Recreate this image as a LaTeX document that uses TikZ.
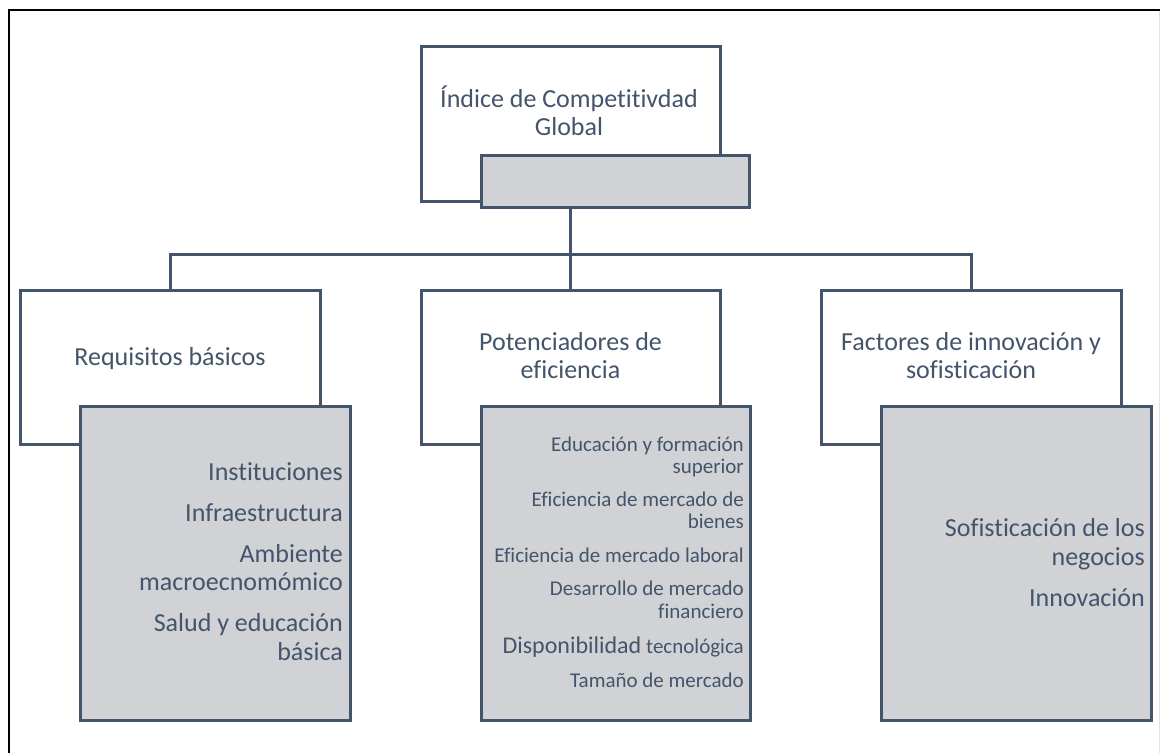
\documentclass[tikz,border=0pt]{standalone}
\usepackage{fontspec}
\setmainfont{Carlito}[Ligatures=NoCommon]
\definecolor{slate}{HTML}{44546A}
\definecolor{boxgrey}{HTML}{D0D2D6}
\definecolor{framegrey}{HTML}{E2E2E2}
\tikzset{
  wbox/.style={draw=slate, line width=3pt, fill=white, rectangle, inner sep=0pt, outer sep=0pt, anchor=north west},
  gbox/.style={draw=slate, line width=3pt, fill=boxgrey, rectangle, inner sep=0pt, outer sep=0pt, anchor=north west},
  conn/.style={draw=slate, line width=3pt},
  big/.style={text=slate, inner sep=0pt, font=\fontsize{26}{28}\selectfont},
  small/.style={text=slate, inner sep=0pt, font=\fontsize{21}{22}\selectfont},
}
\begin{document}
\begin{tikzpicture}[x=1pt,y=-1pt]
\useasboundingbox (0,0) rectangle (1160,753);
% frame
\draw[framegrey, line width=1pt] (1159,10) -- (1159,753);
\draw[black, line width=2.2pt] (9,753) -- (9,10) -- (1160,10);

% top
\node[wbox, minimum width=299pt, minimum height=155pt] (top) at (421,46) {};
\node[gbox, minimum width=268pt, minimum height=52pt] (topg) at (481,155) {};
\node[big, anchor=base] (tt1) at (569,107) {Índice de Competitivdad};
\node[big, anchor=base] (tt2) at (569,135) {Global};

% level boxes
\node[wbox, minimum width=300pt, minimum height=154pt] (b1) at (20,290) {};
\node[wbox, minimum width=299pt, minimum height=154pt] (b2) at (421,290) {};
\node[wbox, minimum width=300pt, minimum height=154pt] (b3) at (821,290) {};

% connectors
\draw[conn] (top.south |- topg.south) -- (b2.north);
\draw[conn] (b1.north) -- ++(0,-36) -| (b3.north);

\node[gbox, minimum width=270pt, minimum height=314pt] (g1) at (80,406) {};
\node[gbox, minimum width=269pt, minimum height=314pt] (g2) at (481,406) {};
\node[gbox, minimum width=270pt, minimum height=314pt] (g3) at (881,406) {};

% white box labels
\node[big, anchor=base] (l1) at (170,365) {Requisitos básicos};
\node[big, anchor=base] (l2a) at (570.5,350) {Potenciadores de};
\node[big, anchor=base] (l2b) at (570.5,378) {eficiencia};
\node[big, anchor=base] (l3a) at (971,350) {Factores de innovación y};
\node[big, anchor=base] (l3b) at (971,378) {sofisticación};

% left grey
\node[big, anchor=base east] (a1) at (343,480) {Instituciones};
\node[big, anchor=base east] (a2) at (343,521.7) {Infraestructura};
\node[big, anchor=base east] (a3) at (343,562.3) {Ambiente};
\node[big, anchor=base east] (a4) at (343,590.7) {macroecnomómico};
\node[big, anchor=base east] (a5) at (343,631.7) {Salud y educación};
\node[big, anchor=base east] (a6) at (343,660) {básica};

% middle grey
\node[small, anchor=base east] (m1) at (744,451.7) {Educación y formación};
\node[small, anchor=base east] (m2) at (744,473.3) {superior};
\node[small, anchor=base east] (m3) at (744,506) {Eficiencia de mercado de};
\node[small, anchor=base east] (m4) at (744,528.3) {bienes};
\node[small, anchor=base east] (m5) at (744,562.5) {Eficiencia de mercado laboral};
\node[small, anchor=base east] (m6) at (744,595) {Desarrollo de mercado};
\node[small, anchor=base east] (m7) at (744,618.3) {financiero};
\node[small, anchor=base east] (m8) at (744,653.3) {{\fontsize{24}{26}\selectfont Disponibilidad} tecnológica};
\node[small, anchor=base east] (m9) at (744,687) {Tamaño de mercado};

% right grey
\node[big, anchor=base east] (r1) at (1145,536) {Sofisticación de los};
\node[big, anchor=base east] (r2) at (1145,565) {negocios};
\node[big, anchor=base east] (r3) at (1145,606) {Innovación};
\end{tikzpicture}
\end{document}
